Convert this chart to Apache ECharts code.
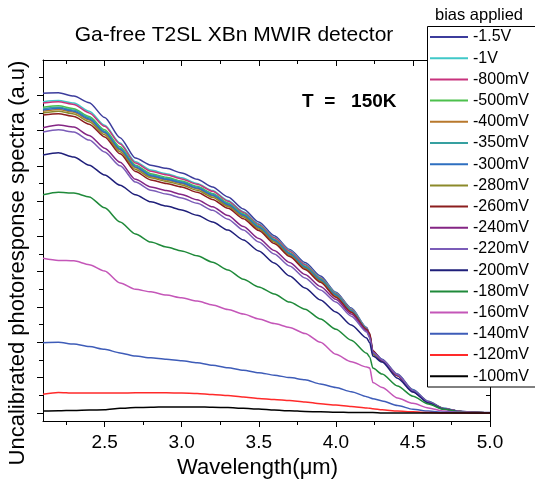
<!DOCTYPE html>
<html><head><meta charset="utf-8">
<script src="https://cdn.jsdelivr.net/npm/echarts@6/dist/echarts.min.js"></script>
<style>html,body{margin:0;padding:0;background:#fff}#c{width:535px;height:484px}</style>
</head><body><div id="c"></div><script>
const wavelengths = [2.1,2.2,2.3,2.4,2.5,2.6,2.7,2.8,2.9,3.0,3.1,3.2,3.3,3.4,3.5,3.6,3.7,3.8,3.9,4.0,4.1,4.2,4.22,4.24,4.3,4.4,4.5,4.6,4.7,4.8,4.9,5.0];
const biasNames = ['-1.5V','-1V','-800mV','-500mV','-400mV','-350mV','-300mV','-280mV','-260mV','-240mV','-220mV','-200mV','-180mV','-160mV','-140mV','-120mV','-100mV'];
const biasColors = ['#3c3c9c','#40c8c8','#c8327d','#4cc04c','#b8782c','#36a0a0','#2e6fc0','#8c8a2a','#8c1e1e','#842584','#7b5cb8','#1f1f7a','#1f8a3a','#c456b8','#3e5cb8','#ff2a2a','#000000'];
const xMajorTicks = [2.5,3.0,3.5,4.0,4.5,5.0];
const xMinorTicks = [2.25,2.75,3.25,3.75,4.25,4.75];
const yMajorTicks = [0,1,2,3,4,5,6,7,8,9];
const yMinorTicks = [0.5,1.5,2.5,3.5,4.5,5.5,6.5,7.5,8.5,9.5];

const v_1500 = [9.06,9.07,8.98,8.79,8.37,7.80,7.22,7.02,6.93,6.80,6.62,6.40,6.12,5.78,5.41,5.02,4.63,4.26,3.88,3.42,2.97,2.42,2.22,1.74,1.52,1.10,0.66,0.33,0.13,0.05,0.02,0.01];
const v_1000 = [8.82,8.85,8.78,8.55,8.15,7.65,7.12,6.88,6.78,6.66,6.50,6.30,6.02,5.70,5.36,4.98,4.60,4.22,3.84,3.40,2.95,2.40,2.20,1.72,1.50,1.09,0.64,0.32,0.13,0.04,0.01,0];
const v_800 = [8.78,8.82,8.74,8.50,8.12,7.62,7.08,6.85,6.75,6.63,6.48,6.28,6.00,5.68,5.34,4.96,4.58,4.20,3.82,3.38,2.93,2.39,2.19,1.70,1.49,1.08,0.63,0.31,0.12,0.04,0.01,0];
const v_500 = [8.66,8.70,8.62,8.40,8.02,7.54,7.02,6.78,6.68,6.57,6.42,6.22,5.95,5.64,5.30,4.92,4.54,4.16,3.80,3.36,2.91,2.37,2.18,1.69,1.48,1.07,0.62,0.31,0.12,0.04,0.01,0];
const v_400 = [8.55,8.60,8.52,8.30,7.93,7.45,6.95,6.70,6.60,6.50,6.35,6.15,5.88,5.58,5.24,4.87,4.49,4.11,3.75,3.32,2.88,2.35,2.17,1.67,1.47,1.06,0.61,0.30,0.12,0.04,0.01,0];
const v_350 = [8.62,8.66,8.58,8.36,7.98,7.50,7.00,6.75,6.65,6.55,6.40,6.20,5.93,5.62,5.28,4.90,4.52,4.14,3.78,3.35,2.90,2.36,2.18,1.68,1.48,1.07,0.62,0.31,0.12,0.04,0.01,0];
const v_300 = [8.58,8.63,8.55,8.33,7.95,7.47,6.97,6.72,6.62,6.52,6.37,6.17,5.90,5.60,5.26,4.89,4.51,4.13,3.77,3.34,2.89,2.36,2.18,1.68,1.47,1.07,0.62,0.31,0.12,0.04,0.01,0];
const v_280 = [8.50,8.55,8.47,8.25,7.88,7.40,6.90,6.66,6.56,6.46,6.31,6.11,5.85,5.55,5.21,4.84,4.46,4.09,3.73,3.30,2.86,2.34,2.16,1.66,1.46,1.06,0.61,0.30,0.12,0.04,0.01,0];
const v_260 = [8.44,8.48,8.40,8.18,7.82,7.34,6.84,6.60,6.50,6.40,6.25,6.05,5.80,5.50,5.17,4.80,4.43,4.06,3.70,3.28,2.85,2.36,2.25,1.76,1.48,1.05,0.60,0.30,0.11,0.04,0.01,0];
const v_240 = [8.08,8.16,8.10,7.86,7.50,7.10,6.62,6.40,6.30,6.19,6.04,5.84,5.59,5.28,4.94,4.60,4.26,3.92,3.58,3.22,2.80,2.33,2.15,1.72,1.49,1.07,0.62,0.31,0.12,0.04,0.01,0];
const v_220 = [7.96,8.02,7.96,7.73,7.39,7.00,6.54,6.31,6.20,6.09,5.94,5.74,5.49,5.18,4.84,4.50,4.16,3.82,3.48,3.14,2.74,2.29,2.12,1.72,1.50,1.08,0.63,0.31,0.12,0.04,0.01,0];
const v_200 = [7.31,7.37,7.25,7.02,6.74,6.45,6.18,5.98,5.86,5.75,5.60,5.41,5.18,4.90,4.59,4.25,3.88,3.54,3.20,2.86,2.49,2.12,1.98,1.61,1.44,0.98,0.59,0.28,0.10,0.03,0.01,0];
const v_180 = [6.18,6.25,6.23,6.12,5.81,5.41,5.07,4.84,4.70,4.59,4.45,4.27,4.05,3.79,3.57,3.37,3.14,2.94,2.66,2.37,2.06,1.69,1.58,1.27,1.10,0.76,0.47,0.25,0.10,0.03,0.01,0];
const v_160 = [4.38,4.32,4.31,4.20,4.02,3.68,3.50,3.43,3.34,3.26,3.17,3.06,2.93,2.80,2.66,2.53,2.42,2.25,2.00,1.66,1.45,1.30,1.27,0.86,0.72,0.42,0.27,0.14,0.05,0.02,0.01,0];
const v_140 = [1.99,2.00,1.95,1.88,1.80,1.70,1.61,1.56,1.52,1.48,1.42,1.35,1.28,1.21,1.14,1.07,1.00,0.94,0.82,0.72,0.60,0.46,0.43,0.40,0.34,0.21,0.10,0.05,0.02,0.01,0,0];
const v_120 = [0.53,0.58,0.56,0.56,0.56,0.56,0.57,0.57,0.57,0.56,0.55,0.52,0.49,0.45,0.41,0.38,0.35,0.31,0.26,0.22,0.18,0.14,0.13,0.12,0.09,0.05,0.03,0.01,0,0,0,0];
const v_100 = [0.05,0.06,0.07,0.08,0.09,0.13,0.15,0.16,0.17,0.17,0.17,0.16,0.15,0.13,0.11,0.08,0.06,0.04,0.03,0.02,0.01,0.01,0.01,0.01,0,0,0,0,0,0,0,0];

const allValues = [v_1500,v_1000,v_800,v_500,v_400,v_350,v_300,v_280,v_260,v_240,v_220,v_200,v_180,v_160,v_140,v_120,v_100];

const FF = '"Liberation Sans", Arial, sans-serif';
const chart = echarts.init(document.getElementById('c'), null, {renderer:'canvas'});

const series = biasNames.map((name, i) => ({
  name, type:'line', xAxisIndex:0, yAxisIndex:0, symbol:'none', showSymbol:false,
  smooth:0.25, smoothMonotone:'x',
  lineStyle:{color: biasColors[i], width:1.5}, itemStyle:{color: biasColors[i]},
  data: wavelengths.map((w, j) => [w, allValues[i][j]]), animation:false, z: 2
}));

function xAx(pos, ticks, len, inside, showLine, showLabel) {
  return {type:'value', position:pos, min:2.1, max:5.0,
    axisLine:{show:showLine, onZero:false, lineStyle:{color:'#000', width:1}},
    axisTick:{show:true, inside:inside, length:len, customValues:ticks, lineStyle:{color:'#000', width:1}},
    axisLabel:{show:showLabel, customValues:ticks, margin:12, fontSize:19, fontFamily:FF, color:'#000', formatter:v=>v.toFixed(1)},
    splitLine:{show:false}};
}
function yAx(pos, ticks, len, inside, showLine) {
  return {type:'value', position:pos, min:-0.23, max:10,
    axisLine:{show:showLine, onZero:false, lineStyle:{color:'#000', width:1}},
    axisTick:{show:true, inside:inside, length:len, customValues:ticks, lineStyle:{color:'#000', width:1}},
    axisLabel:{show:false}, splitLine:{show:false}};
}

chart.setOption({
  animation:false,
  backgroundColor:'#fff',
  grid:{left:43, right:45, top:60, bottom:63, containLabel:false},
  xAxis:[
    xAx('bottom', xMajorTicks, 6, false, true, true),
    xAx('bottom', xMinorTicks, 4, false, false, false),
    xAx('top', xMajorTicks, 6, true, true, false),
    xAx('top', xMinorTicks, 4, true, false, false)
  ],
  yAxis:[
    yAx('left', yMajorTicks, 6, false, true),
    yAx('left', yMinorTicks, 4, false, false),
    yAx('right', yMajorTicks, 6, true, true),
    yAx('right', yMinorTicks, 4, true, false)
  ],
  legend:{
    orient:'vertical', left:428, top:26, itemWidth:38, itemHeight:2, itemGap:5.2, icon:'rect',
    padding:[3,2,2,2],
    textStyle:{fontSize:16, fontFamily:FF, color:'#000', lineHeight:16},
    data: biasNames, z: 10
  },
  graphic:[
    {type:'rect', z:6, shape:{x:427.5, y:26.5, width:130, height:360.5}, style:{fill:'#fff', stroke:null, lineWidth:0}},
    {type:'polyline', z:7, shape:{points:[[560,26.5],[427.5,26.5],[427.5,387],[560,387]]}, style:{fill:null, stroke:'#000', lineWidth:1}},
    {type:'text', x:234, y:35, style:{text:'Ga-free T2SL XBn MWIR detector', align:'center', verticalAlign:'middle', fontSize:21, fontFamily:FF, fill:'#000'}},
    {type:'text', x:302, y:102, style:{text:'T  =   150K', align:'left', verticalAlign:'middle', fontSize:19, fontWeight:'bold', fontFamily:FF, fill:'#000'}},
    {type:'text', x:479, y:15, style:{text:'bias applied', align:'center', verticalAlign:'middle', fontSize:16.5, fontFamily:FF, fill:'#000'}},
    {type:'text', x:257.5, y:468, style:{text:'Wavelength(μm)', align:'center', verticalAlign:'middle', fontSize:22, fontFamily:FF, fill:'#000'}},
    {type:'text', x:18, y:263, rotation:Math.PI/2, style:{text:'Uncalibrated photoresponse spectra (a.u)', align:'center', verticalAlign:'middle', fontSize:22, fontFamily:FF, fill:'#000'}}
  ],
  series
});
</script></body></html>
